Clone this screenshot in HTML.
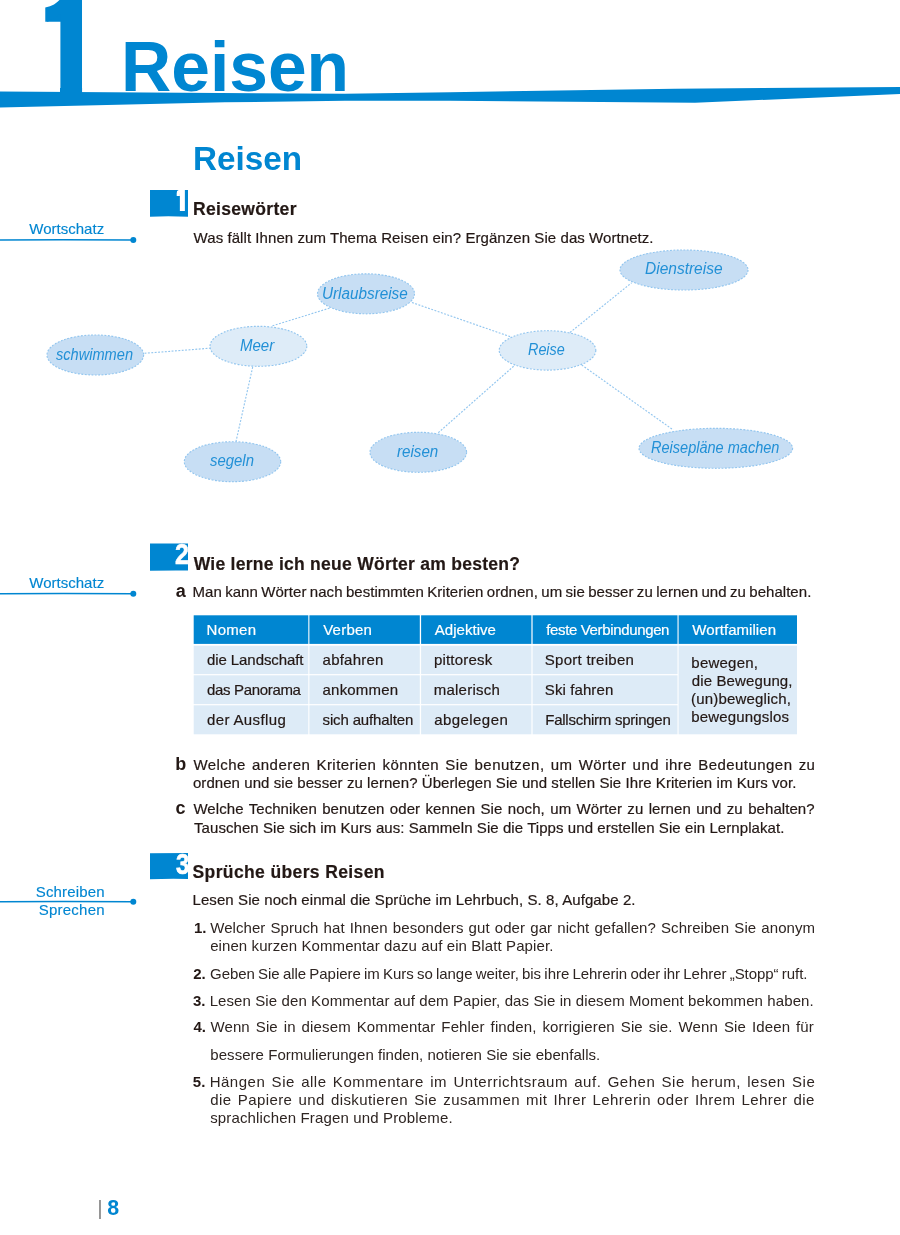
<!DOCTYPE html>
<html lang="de">
<head>
<meta charset="utf-8">
<title>Reisen</title>
<style>
html,body{margin:0;padding:0;background:#fff;}
body{width:900px;height:1235px;position:relative;overflow:hidden;}
#sheet{position:absolute;left:0;top:0;width:900px;height:1235px;overflow:hidden;will-change:transform;font-family:"Liberation Sans",sans-serif;color:#231815;}
svg.art{position:absolute;left:0;top:0;}
.chap,.title,.hd,.sd,.p,.li,.lb,.nm,.th,.td,.wn,.pg,.pb,.dg,.one{position:absolute;margin:0;padding:0;white-space:nowrap;transform-origin:0 0;font-weight:normal;font-style:normal;}
.chap{font-size:71px;line-height:80px;font-weight:bold;color:#0086d1;}
.title{font-size:34px;line-height:40px;font-weight:bold;color:#0086d1;}
.hd{font-size:17.5px;line-height:22px;font-weight:bold;-webkit-text-stroke:0.2px;}
.sd{font-size:15px;line-height:18px;color:#0086d1;-webkit-text-stroke:0.15px;}
.p{font-size:15px;line-height:18px;-webkit-text-stroke:0.2px;}
.li{font-size:15px;line-height:18px;color:#2e2522;}
.lb{font-size:18px;line-height:20px;font-weight:bold;}
.nm{font-size:15px;line-height:18px;font-weight:bold;}
.th,.td{font-size:15px;line-height:18px;-webkit-text-stroke:0.2px;}
.th{color:#fff;}
.wn{font-size:16px;line-height:18px;font-style:italic;color:#2290d6;}
.pg{font-size:21.4px;line-height:24px;font-weight:bold;color:#0086d1;}
.pb{font-size:21px;line-height:24px;color:#888;}
.dg{font-size:29.4px;line-height:32px;font-weight:bold;color:#fff;}
.clip{position:absolute;overflow:hidden;}
.one{font-weight:bold;}
table,tbody,tr,td,th{margin:0;padding:0;border:0;}
table{border-collapse:collapse;}
</style>
</head>
<body>
<div id="sheet">
<svg class="art" width="900" height="1235" viewBox="0 0 900 1235">
<polygon fill="#0086d1" points="0,91.5 345,93.8 450,92.2 675,88.8 900,87 900,94 695,102.8 450,100.8 345,100.8 225,102.3 0,107.5"/>
<g fill="#0086d1">
<path d="M150,190 L188,190 L188,216.8 Q170,216 150,216.7 Z"/>
<path d="M150,543.6 L188,543.4 L188,570.5 Q170,570.2 150,570.8 Z"/>
<path d="M150,853.3 L188,853 L188,879 Q170,878.6 150,879.2 Z"/>
</g>
<g stroke="#0086d1" stroke-width="1.5" fill="none" stroke-linecap="round">
<path d="M0,240.0 Q60,239.4 133,240.0"/>
<path d="M0,593.7 Q60,593.1 133,593.7"/>
<path d="M0,901.7 Q60,901.1 133,901.7"/>
</g>
<g fill="#0086d1">
<circle cx="133.3" cy="240.0" r="3"/>
<circle cx="133.3" cy="593.8" r="3"/>
<circle cx="133.3" cy="901.8" r="3"/>
</g>
<g stroke="#93c6ef" stroke-width="1.15" stroke-dasharray="1.9 1.5" fill="none">
<line x1="144.5" y1="353.3" x2="210.0" y2="348.2"/>
<line x1="272.5" y1="325.8" x2="330.0" y2="308.0"/>
<line x1="252.7" y1="367.0" x2="236.0" y2="441.5"/>
<line x1="412.0" y1="302.5" x2="511.7" y2="337.2"/>
<line x1="570.0" y1="332.5" x2="631.7" y2="282.7"/>
<line x1="438.3" y1="432.7" x2="515.0" y2="365.0"/>
<line x1="581.7" y1="365.0" x2="673.3" y2="430.0"/>
</g>
<g stroke="#93c6ef" stroke-width="1.15" stroke-dasharray="1.9 1.5">
<ellipse cx="95.3" cy="355.0" rx="48.3" ry="20.0" fill="#c7def4"/>
<ellipse cx="258.4" cy="346.3" rx="48.4" ry="20.0" fill="#deecf8"/>
<ellipse cx="366.0" cy="293.8" rx="48.5" ry="20.0" fill="#c7def4"/>
<ellipse cx="232.5" cy="461.7" rx="48.2" ry="20.0" fill="#c7def4"/>
<ellipse cx="418.3" cy="452.3" rx="48.3" ry="20.0" fill="#c7def4"/>
<ellipse cx="547.5" cy="350.4" rx="48.3" ry="19.7" fill="#deecf8"/>
<ellipse cx="684.0" cy="270.0" rx="64.0" ry="20.0" fill="#c7def4"/>
<ellipse cx="715.8" cy="448.3" rx="76.8" ry="20.0" fill="#c7def4"/>
</g>
<g fill="#0086d1">
<rect x="193.7" y="615.3" width="114.6" height="28.6"/>
<rect x="309.4" y="615.3" width="110.4" height="28.6"/>
<rect x="421.1" y="615.3" width="110.3" height="28.6"/>
<rect x="532.6" y="615.3" width="144.9" height="28.6"/>
<rect x="678.6" y="615.3" width="118.4" height="28.6"/>
</g>
<g fill="#ddebf7">
<rect x="193.7" y="645.7" width="114.6" height="28.4"/>
<rect x="193.7" y="675.3" width="114.6" height="28.8"/>
<rect x="193.7" y="705.3" width="114.6" height="29.0"/>
<rect x="309.4" y="645.7" width="110.4" height="28.4"/>
<rect x="309.4" y="675.3" width="110.4" height="28.8"/>
<rect x="309.4" y="705.3" width="110.4" height="29.0"/>
<rect x="421.1" y="645.7" width="110.3" height="28.4"/>
<rect x="421.1" y="675.3" width="110.3" height="28.8"/>
<rect x="421.1" y="705.3" width="110.3" height="29.0"/>
<rect x="532.6" y="645.7" width="144.9" height="28.4"/>
<rect x="532.6" y="675.3" width="144.9" height="28.8"/>
<rect x="532.6" y="705.3" width="144.9" height="29.0"/>
<rect x="678.6" y="645.7" width="118.4" height="88.6"/>
</g>
<polygon fill="#0086d1" points="46.5,21.7 61,21.7 61,11.5"/>
<polygon fill="#fff" points="176.7,192.5 178.5,191.6 179.9,190.4 179.9,196 176.7,196"/>
</svg>
<div class="one" style="left:23.38px;top:-38.20px;font-size:158.2px;line-height:176px;color:#0086d1;clip-path:polygon(21.9px 45.7px,26.6px 44.5px,30.6px 42.7px,33.6px 40.5px,36.1px 38.2px,58.7px 38.2px,58.7px 134.2px,36.6px 134.2px,36.6px 59.9px,21.9px 59.9px);">1</div>
<h1 class="chap" style="left:121.37px;top:27.30px;transform:scaleX(0.9795);">Reisen</h1>
<h2 class="title" style="left:192.88px;top:138.40px;transform:scaleX(0.9779);">Reisen</h2>
<div class="sd" style="left:29.28px;top:219.70px;letter-spacing:0.013px;">Wortschatz</div>
<div class="sd" style="left:29.28px;top:573.50px;letter-spacing:0.013px;">Wortschatz</div>
<div class="sd" style="left:35.83px;top:882.70px;letter-spacing:0.145px;">Schreiben</div>
<div class="sd" style="left:38.83px;top:900.70px;letter-spacing:0.212px;">Sprechen</div>
<div class="clip" style="left:176.7px;top:189px;width:12px;height:21.9px;"><div class="one" style="left:-5.14px;top:-6.50px;font-size:36px;line-height:40px;color:#fff;">1</div></div>
<h3 class="hd" style="left:193.00px;top:198.30px;letter-spacing:0.327px;">Reisewörter</h3>
<p class="p" style="left:193.59px;top:228.70px;letter-spacing:0.066px;">Was fällt Ihnen zum Thema Reisen ein? Ergänzen Sie das Wortnetz.</p>
<div class="dg" style="left:175.36px;top:538.30px;transform:scaleX(0.8518);-webkit-text-stroke:0.6px #fff;">2</div>
<h3 class="hd" style="left:193.69px;top:552.60px;letter-spacing:0.268px;">Wie lerne ich neue Wörter am besten?</h3>
<div class="lb" style="left:175.67px;top:581.00px;">a</div>
<p class="p" style="left:192.50px;top:583.00px;letter-spacing:0.040px;word-spacing:-0.840px;">Man kann Wörter nach bestimmten Kriterien ordnen, um sie besser zu lernen und zu behalten.</p>
<table>
<tr><th><span class="th" style="left:206.59px;top:621.00px;letter-spacing:0.282px;">Nomen</span></th><th><span class="th" style="left:323.21px;top:621.00px;letter-spacing:0.236px;">Verben</span></th><th><span class="th" style="left:434.78px;top:621.00px;letter-spacing:0.030px;">Adjektive</span></th><th><span class="th" style="left:546.19px;top:621.00px;letter-spacing:-0.353px;">feste Verbindungen</span></th><th><span class="th" style="left:692.31px;top:621.00px;letter-spacing:0.055px;">Wortfamilien</span></th></tr>
<tr><td><span class="td" style="left:206.98px;top:651.30px;letter-spacing:-0.079px;">die Landschaft</span></td><td><span class="td" style="left:322.55px;top:651.30px;letter-spacing:0.236px;">abfahren</span></td><td><span class="td" style="left:433.91px;top:651.30px;letter-spacing:0.193px;">pittoresk</span></td><td><span class="td" style="left:544.80px;top:651.30px;letter-spacing:0.262px;">Sport treiben</span></td><td rowspan="3"><span class="td" style="left:691.34px;top:653.50px;letter-spacing:0.221px;">bewegen,</span><span class="td" style="left:691.77px;top:671.80px;letter-spacing:0.123px;">die Bewegung,</span><span class="td" style="left:690.99px;top:690.20px;letter-spacing:0.184px;">(un)beweglich,</span><span class="td" style="left:691.34px;top:708.00px;letter-spacing:0.158px;">bewegungslos</span></td></tr>
<tr><td><span class="td" style="left:206.98px;top:681.30px;letter-spacing:-0.324px;">das Panorama</span></td><td><span class="td" style="left:322.55px;top:681.30px;letter-spacing:0.198px;">ankommen</span></td><td><span class="td" style="left:433.71px;top:681.30px;letter-spacing:0.241px;">malerisch</span></td><td><span class="td" style="left:544.80px;top:681.30px;letter-spacing:0.099px;">Ski fahren</span></td></tr>
<tr><td><span class="td" style="left:206.98px;top:711.40px;letter-spacing:0.371px;">der Ausflug</span></td><td><span class="td" style="left:322.59px;top:711.40px;letter-spacing:-0.148px;">sich aufhalten</span></td><td><span class="td" style="left:434.20px;top:711.40px;letter-spacing:0.438px;">abgelegen</span></td><td><span class="td" style="left:545.27px;top:711.40px;letter-spacing:-0.253px;">Fallschirm springen</span></td></tr>
</table>
<div class="lb" style="left:175.17px;top:753.50px;">b</div>
<p class="p" style="left:193.38px;top:755.50px;letter-spacing:0.450px;word-spacing:1.600px;">Welche anderen Kriterien könnten Sie benutzen, um Wörter und ihre Bedeutungen zu</p>
<p class="p" style="left:192.93px;top:773.50px;letter-spacing:0.063px;">ordnen und sie besser zu lernen? Überlegen Sie und stellen Sie Ihre Kriterien im Kurs vor.</p>
<div class="lb" style="left:175.54px;top:798.20px;">c</div>
<p class="p" style="left:193.38px;top:800.20px;letter-spacing:0.072px;word-spacing:1.123px;">Welche Techniken benutzen oder kennen Sie noch, um Wörter zu lernen und zu behalten?</p>
<p class="p" style="left:194.02px;top:818.50px;letter-spacing:0.069px;">Tauschen Sie sich im Kurs aus: Sammeln Sie die Tipps und erstellen Sie ein Lernplakat.</p>
<div class="dg" style="left:176.04px;top:847.80px;transform:scaleX(0.8127);-webkit-text-stroke:0.6px #fff;">3</div>
<h3 class="hd" style="left:192.57px;top:861.20px;letter-spacing:0.375px;">Sprüche übers Reisen</h3>
<p class="p" style="left:192.50px;top:891.30px;letter-spacing:0.084px;">Lesen Sie noch einmal die Sprüche im Lehrbuch, S. 8, Aufgabe 2.</p>
<div class="nm" style="left:194.01px;top:918.80px;">1.</div>
<p class="li" style="left:210.21px;top:918.80px;letter-spacing:0.066px;word-spacing:0.911px;">Welcher Spruch hat Ihnen besonders gut oder gar nicht gefallen? Schreiben Sie anonym</p>
<p class="li" style="left:210.14px;top:936.80px;letter-spacing:0.097px;">einen kurzen Kommentar dazu auf ein Blatt Papier.</p>
<div class="nm" style="left:193.15px;top:964.50px;">2.</div>
<p class="li" style="left:210.02px;top:964.50px;letter-spacing:-0.047px;word-spacing:-0.840px;">Geben Sie alle Papiere im Kurs so lange weiter, bis ihre Lehrerin oder ihr Lehrer „Stopp“ ruft.</p>
<div class="nm" style="left:192.95px;top:991.50px;">3.</div>
<p class="li" style="left:209.64px;top:991.50px;letter-spacing:0.100px;">Lesen Sie den Kommentar auf dem Papier, das Sie in diesem Moment bekommen haben.</p>
<div class="nm" style="left:193.48px;top:1018.30px;">4.</div>
<p class="li" style="left:210.39px;top:1018.30px;letter-spacing:0.137px;word-spacing:1.600px;">Wenn Sie in diesem Kommentar Fehler finden, korrigieren Sie sie. Wenn Sie Ideen für</p>
<p class="li" style="left:210.35px;top:1046.00px;letter-spacing:0.038px;">bessere Formulierungen finden, notieren Sie sie ebenfalls.</p>
<div class="nm" style="left:192.83px;top:1072.50px;">5.</div>
<p class="li" style="left:209.64px;top:1072.50px;letter-spacing:0.523px;word-spacing:1.600px;">Hängen Sie alle Kommentare im Unterrichtsraum auf. Gehen Sie herum, lesen Sie</p>
<p class="li" style="left:210.31px;top:1091.00px;letter-spacing:0.412px;word-spacing:1.600px;">die Papiere und diskutieren Sie zusammen mit Ihrer Lehrerin oder Ihrem Lehrer die</p>
<p class="li" style="left:210.15px;top:1109.30px;letter-spacing:0.151px;">sprachlichen Fragen und Probleme.</p>
<div class="wn" style="left:56.47px;top:345.70px;transform:scaleX(0.9115);">schwimmen</div>
<div class="wn" style="left:239.94px;top:336.80px;transform:scaleX(0.9380);">Meer</div>
<div class="wn" style="left:322.03px;top:284.80px;transform:scaleX(0.9547);">Urlaubsreise</div>
<div class="wn" style="left:209.65px;top:452.00px;transform:scaleX(0.9317);">segeln</div>
<div class="wn" style="left:396.94px;top:442.70px;transform:scaleX(0.9466);">reisen</div>
<div class="wn" style="left:527.78px;top:341.00px;transform:scaleX(0.8980);">Reise</div>
<div class="wn" style="left:644.50px;top:260.30px;transform:scaleX(0.9690);">Dienstreise</div>
<div class="wn" style="left:651.00px;top:439.30px;transform:scaleX(0.9077);">Reisepläne machen</div>
<span class="pb" style="left:97.15px;top:1196.20px;">|</span>
<span class="pg" style="left:107.30px;top:1195.80px;">8</span>
</div>
</body>
</html>
